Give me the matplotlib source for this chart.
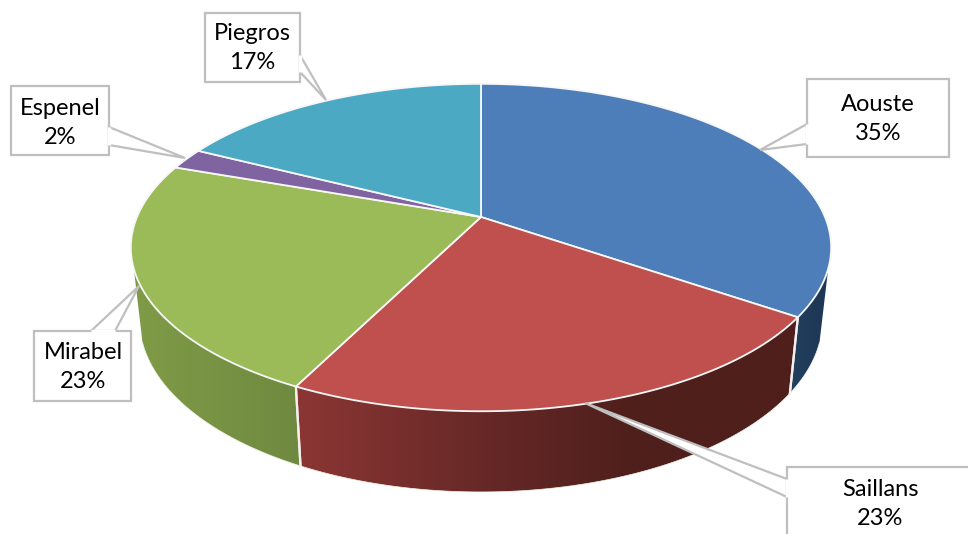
import numpy as np
import matplotlib
matplotlib.use("Agg")
import matplotlib.pyplot as plt
from matplotlib.colors import LinearSegmentedColormap
from matplotlib.patches import Polygon

communes = ["Aouste", "Saillans", "Mirabel", "Espenel", "Piegros"]
parts = [34.6, 22.8, 23.0, 2.1, 17.5]
etiquettes = ["35%", "23%", "23%", "2%", "17%"]
couleurs = ["#4D7EBA", "#C0504D", "#9BBB59", "#8064A2", "#4BA9C4"]
# degrade des flancs visibles (gauche -> droite)
flancs = {
    "Aouste": ["#24405F", "#1C3554"],
    "Saillans": ["#8C3634", "#6A2A28", "#4F1F1C", "#4F1F1C"],
    "Mirabel": ["#7F9B47", "#6F8A40"],
}

# boites des etiquettes : x0, y0, x1, y1, base du trait (2 points), pointe
boites = {
    "Aouste": (807, 79, 949, 157, (807, 124), (807, 144), (760, 150)),
    "Saillans": (787, 467, 990, 560, (787, 479), (787, 497), (585, 403)),
    "Mirabel": (34, 331, 131, 401, (91, 331), (115, 331), (139, 286)),
    "Espenel": (11, 86, 109, 155, (109, 127), (109, 145), (185, 158)),
    "Piegros": (205, 13, 300, 82, (300, 55), (300, 72), (326, 100)),
}
textes = {
    "Aouste": (878, 119),
    "Saillans": (880, 504),
    "Mirabel": (83, 367),
    "Espenel": (60, 123),
    "Piegros": (252, 48),
}

cx, cy = 481, 217
a, b, k = 344, 158, 0.1866


def dessus(theta):
    # cercle vu en perspective, theta en degres depuis midi, sens horaire
    t = np.radians(theta)
    u, v = np.sin(t), np.cos(t)
    return cx + a * u / (1 + k * v), cy - b * v / (1 + k * v)


def dessous(theta):
    x, y = dessus(theta)
    return cx + 0.975 * (x - cx), cy + 71 + 1.05 * (y - cy)


fig = plt.figure(figsize=(9.68, 5.34), dpi=100)
ax = fig.add_axes([0, 0, 1, 1])
ax.set_xlim(0, 968)
ax.set_ylim(534, 0)
ax.axis("off")

bornes = np.concatenate([[0], np.cumsum(parts)]) * 3.6
vis_min, vis_max = 108, 252

# flancs
for i, nom in enumerate(communes):
    d, f = max(bornes[i], vis_min), min(bornes[i + 1], vis_max)
    if d >= f:
        continue
    th = np.linspace(d, f, 120)
    xh, yh = dessus(th)
    xb, yb = dessous(th)
    pts = np.column_stack([np.r_[xh, xb[::-1]], np.r_[yh, yb[::-1]]])
    poly = Polygon(pts, closed=True, fc="none", ec="none")
    ax.add_patch(poly)
    cm = LinearSegmentedColormap.from_list(nom, flancs[nom])
    im = ax.imshow(np.linspace(0, 1, 256)[None, :], cmap=cm, aspect="auto", zorder=1,
                   extent=[pts[:, 0].min(), pts[:, 0].max(), pts[:, 1].max(), pts[:, 1].min()])
    im.set_clip_path(poly)
    ax.plot(xb, yb, color="#F2F2E6", lw=0.5, zorder=2)
    if bornes[i] > vis_min:
        ax.plot([xh[0], xb[0]], [yh[0], yb[0]], color="#F4F0EC", lw=1.6, zorder=2)
    if bornes[i + 1] < vis_max:
        ax.plot([xh[-1], xb[-1]], [yh[-1], yb[-1]], color="#F4F0EC", lw=1.6, zorder=2)
ax.set_xlim(0, 968)
ax.set_ylim(534, 0)

# dessus
for i, nom in enumerate(communes):
    th = np.linspace(bornes[i], bornes[i + 1], 120)
    x, y = dessus(th)
    pts = np.column_stack([np.r_[cx, x], np.r_[cy, y]])
    ax.add_patch(Polygon(pts, closed=True, fc=couleurs[i], ec="#F7F7F7", lw=1.3, zorder=3, joinstyle="round"))

# etiquettes
for nom, lab in zip(communes, etiquettes):
    x0, y0, x1, y1, p1, p2, pointe = boites[nom]
    ax.add_patch(Polygon([(x0, y0), (x1, y0), (x1, y1), (x0, y1)], closed=True,
                         fc="white", ec="#BFBFBF", lw=1.6, zorder=5))
    ax.add_patch(Polygon([p1, pointe, p2], closed=True, fc="white", ec="#BFBFBF", lw=1.6, zorder=5))
    ax.plot([p1[0], p2[0]], [p1[1], p2[1]], color="white", lw=2.4, zorder=6, solid_capstyle="butt")
    tx, ty = textes[nom]
    ax.text(tx, ty, nom + "\n" + lab, ha="center", va="center", fontsize=17, family="Lato",
            color="black", linespacing=1.45, zorder=7)

fig.savefig("out.png", dpi=100)
